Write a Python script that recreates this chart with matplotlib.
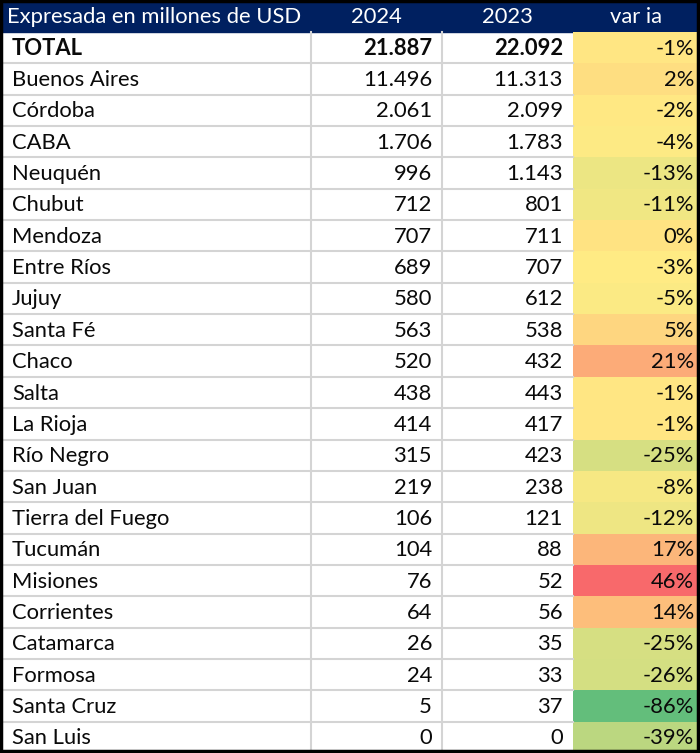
import numpy as np
import matplotlib
matplotlib.use("Agg")
import matplotlib.pyplot as plt
from matplotlib.patches import Rectangle
from matplotlib.colors import to_rgb

# table data
header = ["Expresada en millones de USD", "2024", "2023", "var ia"]
provinces = ["TOTAL", "Buenos Aires", "Córdoba", "CABA", "Neuquén", "Chubut",
             "Mendoza", "Entre Ríos", "Jujuy", "Santa Fé", "Chaco", "Salta",
             "La Rioja", "Río Negro", "San Juan", "Tierra del Fuego", "Tucumán",
             "Misiones", "Corrientes", "Catamarca", "Formosa", "Santa Cruz",
             "San Luis"]
v2024 = ["21.887", "11.496", "2.061", "1.706", "996", "712", "707", "689", "580",
         "563", "520", "438", "414", "315", "219", "106", "104", "76", "64",
         "26", "24", "5", "0"]
v2023 = ["22.092", "11.313", "2.099", "1.783", "1.143", "801", "711", "707",
         "612", "538", "432", "443", "417", "423", "238", "121", "88", "52",
         "56", "35", "33", "37", "0"]
var_ia = [-1, 2, -2, -4, -13, -11, 0, -3, -5, 5, 21, -1, -1, -25, -8, -12, 17,
          46, 14, -25, -26, -86, -39]

W, H = 700, 753
col_edges = [0, 311, 442, 573, 698]
head_h = 32
row_h = (H - head_h) / len(provinces)

plt.rcParams['font.family'] = ['Lato', 'DejaVu Sans']
fs = 15.8

def scale_color(v, vals):
    # excel style 3 colour scale: green - yellow - red
    lo, mid, hi = min(vals), np.median(vals), max(vals)
    g, y, r = [np.array(to_rgb(c)) for c in ("#63BE7B", "#FFEB84", "#F8696B")]
    if v <= mid:
        t = (v - lo) / (mid - lo)
        return g + (y - g) * t
    t = (v - mid) / (hi - mid)
    return y + (r - y) * t

fig = plt.figure(figsize=(W / 100, H / 100), dpi=100)
ax = fig.add_axes([0, 0, 1, 1])
ax.set_xlim(0, W)
ax.set_ylim(H, 0)
ax.axis("off")

# header
ax.add_patch(Rectangle((0, 0), W, head_h, color="#002060", zorder=1))
ax.text(7, head_h / 2 + 1, header[0], color="white", fontsize=fs, va="center", ha="left")
for j in range(1, 4):
    xc = (col_edges[j] + col_edges[j + 1]) / 2
    ax.text(xc, head_h / 2 + 1, header[j], color="white", fontsize=fs, va="center", ha="center")

# rows
for i, name in enumerate(provinces):
    y0 = head_h + i * row_h
    yc = y0 + row_h / 2 + 1
    ax.add_patch(Rectangle((col_edges[3], y0), col_edges[4] - col_edges[3], row_h,
                           color=scale_color(var_ia[i], var_ia), zorder=1, lw=0))
    bold = "bold" if i == 0 else "normal"
    ax.text(12, yc, name, fontsize=fs, va="center", ha="left", fontweight=bold, color="#0a0a0a")
    ax.text(col_edges[2] - 10, yc, v2024[i], fontsize=fs, va="center", ha="right", fontweight=bold, color="#0a0a0a")
    ax.text(col_edges[3] - 10, yc, v2023[i], fontsize=fs, va="center", ha="right", fontweight=bold, color="#0a0a0a")
    ax.text(col_edges[4] - 4, yc, f"{var_ia[i]}%", fontsize=fs, va="center", ha="right", color="#0a0a0a")
    # grid lines
    ax.plot([0, col_edges[3]], [y0 + row_h, y0 + row_h], color="#D4D4D4", lw=1.5, zorder=2)

for x in col_edges[1:3]:
    ax.plot([x, x], [head_h, H], color="#D4D4D4", lw=1.5, zorder=2)

# outer border
ax.add_patch(Rectangle((1, 1), W - 3, H - 3, fill=False, ec="black", lw=2.5, zorder=3))

fig.savefig("out.png", dpi=100)
